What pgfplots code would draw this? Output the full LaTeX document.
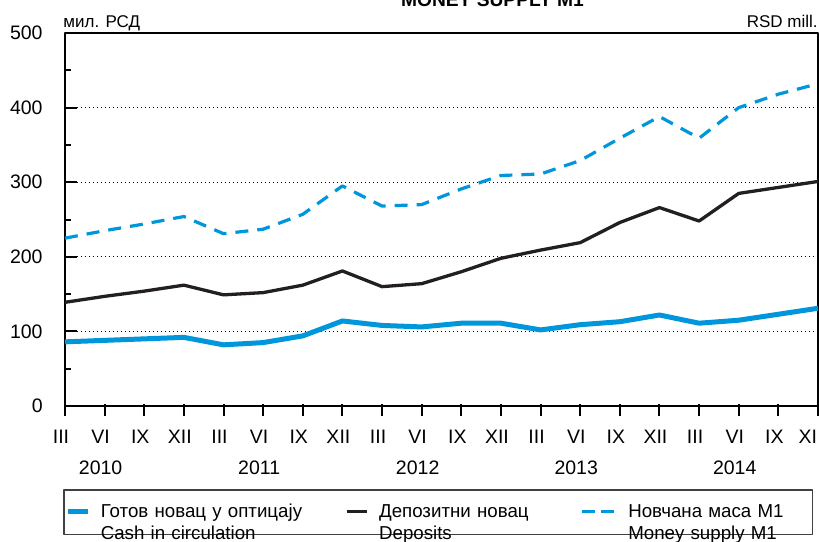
\documentclass[border=0pt]{standalone}
\usepackage{fontspec}
\setmainfont{Liberation Sans}
\usepackage{pgfplots}
\pgfplotsset{compat=1.18}
\definecolor{cashblue}{RGB}{0,150,219}
\definecolor{depblack}{RGB}{35,31,32}
\pgfplotsset{
  solidkey/.style={legend image code/.code={\draw[##1] (0pt,3pt) -- (10pt,3pt);}},
  dashkey/.style={legend image code/.code={\draw[##1, dash pattern=on 6.5pt off 3pt] (0pt,3pt) -- (16pt,3pt); \path (17.5pt,0pt);}},
}

\begin{document}
\begin{tikzpicture}
\begin{axis}[
  scale only axis,
  width=376.5pt, height=186.5pt,
  xmin=0, xmax=19, ymin=0, ymax=500,
  axis line style={line width=1pt},
  tick style={line width=1pt, black},
  tick align=inside,
  major tick length=6pt, minor tick length=3pt,
  xtick={0,...,19},
  xticklabels={III,{VI\\2010},IX,XII,III,{VI\\2011},IX,XII,III,{VI\\2012},IX,XII,III,{VI\\2013},IX,XII,III,{VI\\2014},IX,{\makebox[0pt][r]{XI\kern-1.5pt}}},
  xtick pos=bottom,
  x tick style={yshift=-5pt},
  xticklabel style={anchor=north, inner sep=0pt, yshift=-12pt, xshift=-2pt, align=center,
    font=\fontsize{9.75pt}{15.5pt}\selectfont},
  ytick={0,100,...,500},
  minor ytick={50,150,...,450},
  ytick pos=left,
  yticklabel style={anchor=east, inner sep=0pt, xshift=-11pt, font=\fontsize{9.75pt}{12pt}\selectfont},
  /pgf/number format/assume math mode=true,
  ymajorgrids,
  grid style={black, line width=0.5pt, dash pattern=on 0.6pt off 1.4pt},
  line join=round,
  legend columns=3,
  legend style={
    at={(rel axis cs:0,0)}, anchor=north west, xshift=-1pt, yshift=-41.5pt,
    draw=black!75, line width=0.8pt, inner xsep=1pt, inner ysep=7pt,
    font=\fontsize{9.35pt}{11.25pt}\selectfont,
    cells={anchor=base west},
    nodes={inner sep=0pt, align=left},
    /tikz/every odd column/.style={column sep=5pt},
    /tikz/every even column/.style={column sep=0pt},
    /tikz/column 2/.style={nodes={text width=122.5pt}},
    /tikz/column 4/.style={nodes={text width=100.5pt}},
    /tikz/column 6/.style={nodes={text width=91pt}},
  },
]
\addplot[cashblue, line width=2.5pt, solidkey]
  coordinates {(0,86) (1,88) (2,90) (3,92) (4,82) (5,85) (6,94) (7,114) (8,108) (9,106)
    (10,111) (11,111) (12,102) (13,109) (14,113) (15,122) (16,111) (17,115) (18,123) (19,131)};
\addlegendentry{Готов новац у оптицају\\Cash in circulation}
\addplot[depblack, line width=1.65pt, solidkey]
  coordinates {(0,139) (1,147) (2,154) (3,162) (4,149) (5,152) (6,162) (7,181) (8,160) (9,164)
    (10,180) (11,198) (12,209) (13,219) (14,246) (15,266) (16,248) (17,285) (18,293) (19,301)};
\addlegendentry{Депозитни новац\\Deposits}
\addplot[cashblue, line width=1.6pt, dash pattern=on 6.5pt off 4.5pt, dashkey]
  coordinates {(0,225) (1,235) (2,244) (3,254) (4,231) (5,237) (6,257) (7,295) (8,268) (9,270)
    (10,291) (11,309) (12,311) (13,329) (14,359) (15,388) (16,359) (17,400) (18,418) (19,432)};
\addlegendentry{Новчана маса M1\\Money supply M1}
\end{axis}
\node[anchor=base, inner sep=0pt, font=\bfseries\fontsize{9.6pt}{11pt}\selectfont] at (213.75pt,199.5pt) {MONEY SUPPLY M1};
\node[anchor=base west, inner sep=0pt, font=\fontsize{8.5pt}{10pt}\selectfont] at (-1pt,189pt) {мил. РСД};
\node[anchor=base east, inner sep=0pt, font=\fontsize{8.5pt}{10pt}\selectfont] at (376.5pt,189pt) {RSD mill.};
\pgfresetboundingbox
\path[use as bounding box] (-32.5pt,-67.5pt) rectangle (377pt,203pt);
\end{tikzpicture}
\end{document}
